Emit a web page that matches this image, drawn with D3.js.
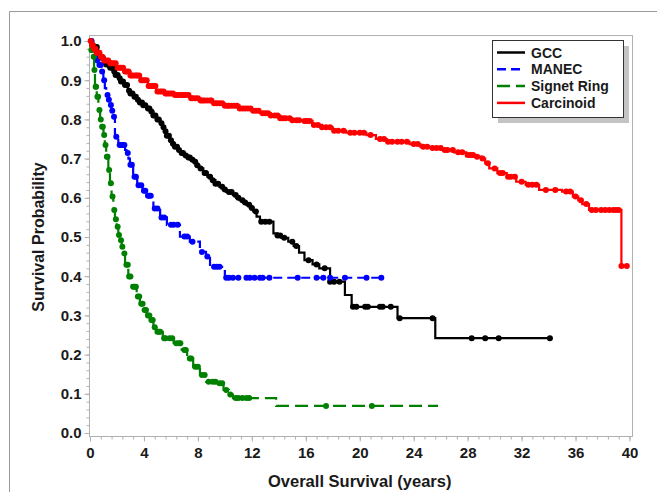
<!DOCTYPE html>
<html>
<head>
<meta charset="utf-8">
<script src="https://cdn.jsdelivr.net/npm/d3@7"></script>
<style>
  html, body { margin: 0; padding: 0; background: #fff; }
  svg { display: block; font-family: "Liberation Sans", Arial, sans-serif; }
</style>
</head>
<body>
<svg id="chart" width="657" height="492"></svg>
<script>
// ---------------- DATA ----------------
const seriesNames = ["GCC", "MANEC", "Signet Ring", "Carcinoid"];

// step points [years, survival]
const gccSteps = [[0,1.0],[0.15,0.99],[0.3,0.985],[0.6,0.97],[0.8,0.958],[1.0,0.947],[1.2,0.94],[1.4,0.932],[1.7,0.922],[1.9,0.913],[2.1,0.905],[2.3,0.897],[2.5,0.888],[2.8,0.873],[3.0,0.866],[3.2,0.858],[3.45,0.85],[3.7,0.843],[3.95,0.836],[4.2,0.828],[4.45,0.82],[4.7,0.81],[4.95,0.8],[5.2,0.79],[5.35,0.78],[5.5,0.77],[5.7,0.758],[5.9,0.747],[6.1,0.738],[6.3,0.73],[6.5,0.722],[6.7,0.714],[6.95,0.708],[7.2,0.703],[7.45,0.697],[7.7,0.692],[7.9,0.683],[8.1,0.675],[8.4,0.663],[8.7,0.654],[9.0,0.645],[9.3,0.636],[9.6,0.628],[9.85,0.621],[10.1,0.615],[10.6,0.607],[10.85,0.6],[11.1,0.594],[11.35,0.588],[11.6,0.582],[11.85,0.574],[12.1,0.565],[12.35,0.552],[12.6,0.539],[13.6,0.509],[13.9,0.504],[14.2,0.498],[14.7,0.488],[15.1,0.477],[15.5,0.46],[15.9,0.441],[16.5,0.43],[17.0,0.42],[17.8,0.386],[18.9,0.352],[19.4,0.322],[22.8,0.293],[25.6,0.242]];
const gccEnd = 34.1;
const gccCensor = [0.1,0.2,0.35,0.5,0.65,0.8,0.95,1.1,1.2,1.35,1.5,1.65,1.8,1.9,2.05,2.2,2.3,2.45,2.6,2.75,2.9,3.0,3.15,3.3,3.4,3.55,3.7,3.85,3.95,4.1,4.3,4.4,4.55,4.7,4.85,5.0,5.1,5.3,5.45,5.6,5.7,5.85,6.0,6.15,6.3,6.45,6.6,6.8,6.9,7.1,7.3,7.4,7.6,7.8,7.95,8.2,8.5,8.6,8.9,9.1,9.3,9.5,9.8,10.0,10.3,10.5,10.8,11.0,11.3,11.5,11.8,12.0,12.3,12.7,13.0,13.3,13.9,14.1,14.4,15.0,15.3,16.2,16.8,17.4,17.8,18.1,18.5,19.5,19.75,20.4,20.6,21.5,21.7,22.3,22.96,25.4,28.3,29.3,30.3,34.1];

const manecSteps = [[0,1.0],[0.2,0.98],[0.37,0.96],[0.5,0.95],[0.62,0.939],[0.86,0.922],[0.99,0.9],[1.1,0.88],[1.2,0.862],[1.35,0.85],[1.48,0.837],[1.6,0.822],[1.73,0.807],[1.85,0.756],[2.1,0.735],[2.6,0.722],[2.7,0.714],[2.85,0.7],[2.96,0.684],[3.2,0.654],[3.5,0.632],[3.9,0.618],[4.2,0.605],[4.6,0.594],[4.7,0.573],[5.2,0.55],[5.7,0.531],[6.67,0.501],[7.4,0.488],[8.15,0.462],[8.6,0.45],[8.9,0.424],[10.0,0.396]];
const manecEnd = 21.6;
const manecCensor = [0.1,0.3,0.45,0.55,0.7,0.8,0.9,1.05,1.3,1.4,1.55,1.65,1.78,1.95,2.2,2.3,2.45,2.55,2.8,3.0,3.1,3.3,3.4,3.6,3.8,4.0,4.1,4.3,4.4,4.5,4.8,5.0,5.3,5.5,6.0,6.2,6.5,7.0,7.2,7.6,8.3,8.7,9.2,9.4,9.6,10.1,10.3,10.6,11.0,11.6,11.85,12.2,12.6,12.8,13.3,15.4,16.8,17.3,17.8,18.9,20.5,21.6];

const signetSteps = [[0,1.0],[0.05,0.977],[0.25,0.96],[0.3,0.926],[0.37,0.883],[0.5,0.858],[0.62,0.824],[0.75,0.8],[0.87,0.781],[1.0,0.76],[1.1,0.735],[1.2,0.705],[1.36,0.671],[1.48,0.637],[1.6,0.603],[1.73,0.569],[1.85,0.545],[1.98,0.526],[2.1,0.505],[2.2,0.492],[2.35,0.475],[2.47,0.458],[2.6,0.429],[2.84,0.399],[3.1,0.373],[3.46,0.348],[3.7,0.33],[3.95,0.314],[4.2,0.3],[4.44,0.288],[4.7,0.27],[4.9,0.258],[5.4,0.242],[6.2,0.229],[6.8,0.212],[7.2,0.19],[7.65,0.169],[8.15,0.148],[8.6,0.131],[9.4,0.127],[9.9,0.11],[10.3,0.098],[10.6,0.089],[13.8,0.069]];
const signetEnd = 25.8;
const signetCensor = [0.1,0.15,0.28,0.33,0.42,0.45,0.55,0.6,0.7,0.8,0.9,0.95,1.05,1.15,1.25,1.3,1.42,1.55,1.67,1.8,1.92,2.05,2.15,2.3,2.4,2.55,2.7,2.8,2.9,3.0,3.2,3.3,3.4,3.55,3.65,3.8,3.9,4.05,4.15,4.3,4.4,4.55,4.65,4.8,5.0,5.1,5.2,5.5,5.6,5.9,6.1,6.4,6.6,6.7,7.0,7.1,7.4,7.5,7.8,8.0,8.3,8.5,8.8,9.1,9.3,9.6,9.8,10.1,10.4,10.8,11.0,11.3,11.6,11.8,17.5,20.9];

const carcSteps = [[0,1.0],[0.1,0.99],[0.3,0.98],[0.5,0.97],[0.74,0.96],[1.0,0.95],[1.48,0.943],[2.0,0.932],[2.5,0.922],[3.0,0.912],[3.7,0.9],[4.3,0.885],[4.9,0.871],[5.5,0.866],[6.2,0.862],[7.4,0.854],[8.2,0.848],[9.1,0.841],[10.0,0.835],[11.1,0.828],[12.0,0.822],[12.6,0.816],[13.4,0.81],[14.1,0.803],[15.0,0.798],[15.6,0.796],[16.5,0.786],[17.2,0.78],[18.0,0.771],[19.0,0.766],[20.5,0.76],[21.2,0.75],[22.0,0.743],[23.7,0.737],[24.5,0.73],[25.2,0.727],[26.1,0.722],[27.0,0.716],[27.9,0.709],[28.5,0.705],[29.0,0.7],[29.3,0.688],[29.6,0.675],[30.2,0.663],[30.9,0.654],[31.6,0.641],[32.3,0.633],[33.3,0.62],[35.0,0.616],[35.8,0.603],[36.2,0.594],[36.5,0.584],[37.0,0.569],[39.4,0.426]];
const carcEnd = 39.8;
const carcCensor = [0.05,0.15,0.2,0.3,0.4,0.5,0.6,0.7,0.8,0.9,1.05,1.2,1.35,1.5,1.6,1.75,1.9,2.05,2.2,2.3,2.45,2.6,2.7,2.85,3.0,3.1,3.25,3.4,3.5,3.65,3.8,3.9,4.05,4.2,4.35,4.45,4.6,4.75,4.85,5.0,5.15,5.3,5.45,5.6,5.7,5.85,6.0,6.15,6.3,6.45,6.6,6.8,6.95,7.1,7.3,7.5,7.6,7.8,8.0,8.2,8.35,8.5,8.7,8.9,9.0,9.2,9.4,9.6,9.8,10.0,10.2,10.3,10.5,10.7,10.9,11.1,11.3,11.5,11.7,11.9,12.1,12.3,12.5,12.8,13.0,13.2,13.4,13.7,13.9,14.1,14.3,14.5,14.8,15.0,15.3,15.5,15.9,16.1,16.3,16.6,16.9,17.2,17.5,17.8,18.1,18.4,18.8,19.3,19.6,20.0,20.3,20.8,21.5,21.8,22.1,22.4,22.8,23.1,23.5,24.0,24.3,24.7,25.0,25.4,25.7,26.0,26.3,26.5,26.9,27.3,27.6,28.0,28.2,28.4,28.7,29.1,29.5,30.0,30.4,30.6,31.0,31.2,31.5,32.0,32.5,32.8,33.1,33.8,34.5,35.3,35.6,36.0,36.4,36.8,37.2,37.5,37.9,38.2,38.5,38.8,39.0,39.2,39.4,39.8];

const xTicks = [0,4,8,12,16,20,24,28,32,36,40];
const yTicks = [0,0.1,0.2,0.3,0.4,0.5,0.6,0.7,0.8,0.9,1.0];
const xTitle = "Overall Survival (years)";
const yTitle = "Survival Probability";

// ---------------- CHART ----------------
const series = [
  {name: seriesNames[0], steps: gccSteps, end: gccEnd, censor: gccCensor, color: "#000000", dash: null},
  {name: seriesNames[1], steps: manecSteps, end: manecEnd, censor: manecCensor, color: "#0000ff", dash: "9,5"},
  {name: seriesNames[2], steps: signetSteps, end: signetEnd, censor: signetCensor, color: "#008000", dash: "13,6"},
  {name: seriesNames[3], steps: carcSteps, end: carcEnd, censor: carcCensor, color: "#ff0000", dash: null}
];

const svg = d3.select("#chart");
const x = d3.scaleLinear().domain([0, 40]).range([90, 629.5]);
const y = d3.scaleLinear().domain([0, 1]).range([433, 41]);
const frame = {left: 89, right: 632, top: 35, bottom: 436};
const axisColor = "#b0b0b0";
const textColor = "#1a1a1a";

// outer border (left + top)
svg.append("path").attr("d", "M9.5,492 L9.5,11.5 L657,11.5")
  .attr("fill", "none").attr("stroke", "#9a9a9a").attr("stroke-width", 1);

// plot frame
svg.append("rect")
  .attr("x", frame.left + 0.5).attr("y", frame.top + 0.5)
  .attr("width", frame.right - frame.left).attr("height", frame.bottom - frame.top)
  .attr("fill", "#fff").attr("stroke", axisColor);

// x axis
const xAxisG = svg.append("g").attr("transform", `translate(0,${frame.bottom + 0.5})`);
xAxisG.append("g").call(d3.axisBottom(x).tickValues(d3.range(0, 40.01, 0.8)).tickSize(3).tickFormat(""));
xAxisG.append("g").call(d3.axisBottom(x).tickValues(xTicks).tickSize(5).tickPadding(6).tickFormat(d3.format("d")));
// y axis
const yAxisG = svg.append("g").attr("transform", `translate(${frame.left + 0.5},0)`);
yAxisG.append("g").call(d3.axisLeft(y).tickValues(d3.range(0, 1.001, 0.02)).tickSize(3).tickFormat(""));
yAxisG.append("g").call(d3.axisLeft(y).tickValues(yTicks).tickSize(5).tickPadding(3).tickFormat(d3.format(".1f")));

svg.selectAll(".domain").remove();
svg.selectAll(".tick line").attr("stroke", axisColor);
svg.selectAll(".tick text")
  .attr("fill", textColor).attr("font-size", 15).attr("font-weight", "bold")
  .attr("font-family", "'Liberation Sans', Arial, sans-serif");

// axis titles
svg.append("text").attr("x", x(20)).attr("y", 487)
  .attr("text-anchor", "middle").attr("font-size", 16.5).attr("font-weight", "bold")
  .attr("fill", textColor).text(xTitle);
svg.append("text").attr("transform", `translate(44,${(y(0) + y(1)) / 2}) rotate(-90)`)
  .attr("text-anchor", "middle").attr("font-size", 16).attr("font-weight", "bold")
  .attr("fill", textColor).text(yTitle);

// curves
const line = d3.line().x(d => x(d[0])).y(d => y(d[1])).curve(d3.curveStepAfter);
function survAt(steps, t) {
  let v = steps[0][1];
  for (const s of steps) { if (s[0] <= t) v = s[1]; else break; }
  return v;
}
const plot = svg.append("g");
series.forEach(s => {
  const pts = s.steps.concat([[s.end, s.steps[s.steps.length - 1][1]]]);
  plot.append("path").datum(pts)
    .attr("d", line).attr("fill", "none")
    .attr("stroke", s.color).attr("stroke-width", 2.2)
    .attr("stroke-dasharray", s.dash);
  plot.selectAll(null).data(s.censor).enter().append("circle")
    .attr("cx", d => x(d)).attr("cy", d => y(survAt(s.steps, d)))
    .attr("r", 3).attr("fill", s.color);
});

// legend
const lg = svg.append("g");
lg.append("rect").attr("x", 498).attr("y", 46).attr("width", 131).attr("height", 77).attr("fill", "#c4c4c4");
lg.append("rect").attr("x", 492.5).attr("y", 40.5).attr("width", 131).attr("height", 77)
  .attr("fill", "#fff").attr("stroke", "#333").attr("stroke-width", 1);
series.forEach((s, i) => {
  const yy = 52.5 + i * 16.8;
  lg.append("line").attr("x1", 497).attr("x2", 525).attr("y1", yy).attr("y2", yy)
    .attr("stroke", s.color).attr("stroke-width", 2.5).attr("stroke-dasharray", s.dash);
  lg.append("text").attr("x", 531).attr("y", yy).attr("dy", "0.36em")
    .attr("font-size", 14).attr("font-weight", "bold").attr("fill", textColor).text(s.name);
});
</script>
</body>
</html>
